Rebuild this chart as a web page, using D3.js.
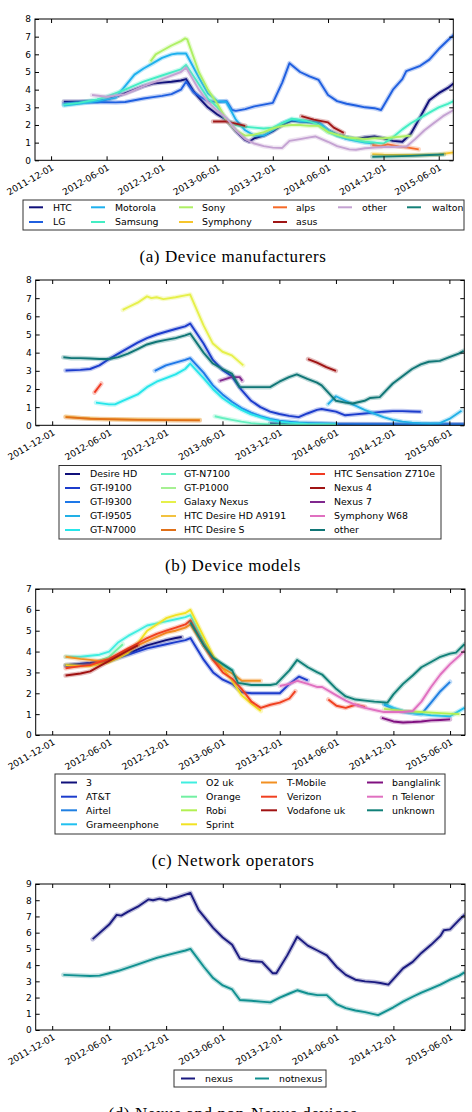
<!DOCTYPE html>
<html><head><meta charset="utf-8">
<script src="https://cdn.jsdelivr.net/npm/d3@7"></script>
<style>body{margin:0;background:#fff}</style>
</head><body><svg id="c" width="472" height="1112"></svg>
<script>
// ---------- shared axis data ----------
const xDomain = ["2011-10-09", "2015-07-19"];
const xTickLabels = ["2011-12-01","2012-06-01","2012-12-01","2013-06-01","2013-12-01","2014-06-01","2014-12-01","2015-06-01"];

// ---------- (a) Device manufacturers ----------
const mfrNames = ["HTC","LG","Motorola","Samsung","Sony","Symphony","alps","asus","other","walton"];
const mfrColors = ["#10107a","#1f5fe0","#1eb0ee","#44eec4","#aef064","#f6c52c","#f66a28","#a01616","#c4a2d2","#148078"];
const mfrHTC = [["2012-01-12",3.32],["2012-03-01",3.32],["2012-05-01",3.35],["2012-06-01",3.45],["2012-07-01",3.6],["2012-08-01",3.8],["2012-09-01",4.0],["2012-10-01",4.2],["2012-11-01",4.35],["2012-12-01",4.4],["2013-01-01",4.45],["2013-02-01",4.52],["2013-02-18",4.6],["2013-03-15",3.9],["2013-04-01",3.55],["2013-05-01",3.0],["2013-06-01",2.6],["2013-07-01",2.3],["2013-08-01",1.65],["2013-09-01",1.15],["2013-09-14",1.05],["2013-10-01",1.25],["2013-11-01",1.4],["2013-12-01",1.65],["2014-01-01",2.0],["2014-02-01",2.25],["2014-03-01",2.2],["2014-04-01",2.15],["2014-05-01",2.1],["2014-06-01",1.7],["2014-07-01",1.45],["2014-08-01",1.3],["2014-09-01",1.2],["2014-10-01",1.3],["2014-11-01",1.35],["2014-12-01",1.25],["2015-01-01",1.1],["2015-02-01",1.05],["2015-03-01",1.5],["2015-04-01",2.45],["2015-05-01",3.4],["2015-06-01",3.8],["2015-07-01",4.1],["2015-07-20",4.35]];
const mfrLG = [["2012-01-12",3.2],["2012-03-01",3.28],["2012-05-01",3.3],["2012-07-01",3.28],["2012-08-01",3.3],["2012-09-01",3.4],["2012-10-01",3.5],["2012-11-01",3.58],["2012-12-01",3.65],["2013-01-01",3.75],["2013-02-01",4.0],["2013-02-18",4.45],["2013-03-15",3.85],["2013-04-01",3.65],["2013-05-01",3.35],["2013-06-01",3.3],["2013-07-01",3.35],["2013-07-20",2.85],["2013-08-01",2.8],["2013-09-01",2.9],["2013-10-01",3.05],["2013-11-01",3.15],["2013-12-01",3.25],["2014-01-01",4.4],["2014-01-25",5.5],["2014-03-01",5.0],["2014-04-01",4.75],["2014-05-01",4.55],["2014-06-01",3.7],["2014-07-01",3.35],["2014-08-01",3.2],["2014-09-01",3.1],["2014-10-01",3.0],["2014-11-01",2.95],["2014-11-23",2.85],["2015-01-01",4.0],["2015-02-01",4.6],["2015-02-14",5.05],["2015-04-01",5.35],["2015-05-01",5.7],["2015-06-01",6.3],["2015-07-01",6.8],["2015-07-20",7.1]];
const mfrMotorola = [["2012-01-12",3.1],["2012-03-01",3.2],["2012-05-01",3.35],["2012-06-01",3.45],["2012-07-01",3.55],["2012-08-01",4.2],["2012-09-01",4.85],["2012-10-01",5.2],["2012-11-01",5.5],["2012-12-01",5.8],["2013-01-01",6.0],["2013-01-20",6.05],["2013-02-18",6.05],["2013-04-01",4.7],["2013-05-01",3.8],["2013-06-01",3.35],["2013-07-01",3.3],["2013-08-01",2.3],["2013-09-01",1.7],["2013-10-01",1.4],["2013-11-01",1.4],["2013-12-01",1.7],["2014-01-01",2.1],["2014-02-01",2.3],["2014-03-01",2.2],["2014-04-01",2.2],["2014-05-01",2.15],["2014-06-01",1.7],["2014-07-01",1.4],["2014-08-01",1.2],["2014-09-01",1.1],["2014-10-01",1.0],["2014-11-01",0.95]];
const mfrSamsung = [["2012-01-12",3.15],["2012-03-01",3.25],["2012-05-01",3.45],["2012-06-01",3.6],["2012-08-01",4.0],["2012-10-01",4.45],["2012-12-01",4.8],["2013-02-01",5.15],["2013-02-18",5.4],["2013-04-01",4.3],["2013-05-01",3.5],["2013-06-01",3.0],["2013-07-01",2.3],["2013-08-01",2.0],["2013-09-01",1.9],["2013-10-01",1.85],["2013-11-01",1.8],["2013-12-01",1.85],["2014-01-01",2.1],["2014-02-01",2.35],["2014-03-01",2.3],["2014-04-01",2.2],["2014-05-01",2.0],["2014-06-01",1.6],["2014-07-01",1.4],["2014-08-01",1.3],["2014-09-01",1.15],["2014-10-01",1.05],["2014-11-01",1.0],["2014-12-01",0.95],["2015-01-01",1.3],["2015-02-01",1.75],["2015-03-01",2.1],["2015-04-01",2.4],["2015-05-01",2.7],["2015-06-01",3.0],["2015-07-01",3.2],["2015-07-20",3.35]];
const mfrSony = [["2012-10-24",5.6],["2012-11-10",6.0],["2012-12-01",6.2],["2013-01-01",6.5],["2013-02-01",6.75],["2013-02-15",6.9],["2013-02-22",6.85],["2013-04-01",5.0],["2013-05-01",4.0],["2013-06-01",3.2],["2013-07-01",2.3],["2013-08-01",1.7],["2013-09-01",1.4],["2013-10-01",1.45],["2013-11-01",1.6],["2013-12-01",1.8],["2014-01-01",1.95],["2014-02-01",2.0],["2014-03-01",2.0],["2014-04-01",1.95],["2014-05-01",1.95],["2014-06-01",1.6],["2014-07-01",1.45],["2014-08-01",1.3],["2014-09-01",1.25],["2014-10-01",1.2],["2014-11-01",1.25],["2014-12-01",1.25],["2015-01-01",1.3],["2015-02-01",1.35],["2015-02-28",1.4]];
const mfrSymphony = [["2014-10-25",0.35],["2014-12-01",0.32],["2015-02-01",0.3],["2015-04-01",0.3],["2015-06-01",0.33],["2015-07-20",0.45]];
const mfrAlps = [["2014-10-25",0.85],["2014-11-23",0.8],["2014-12-15",0.9],["2015-01-20",0.78],["2015-02-20",0.72],["2015-03-27",0.62]];
const mfrAsus = [["2013-05-18",2.2],["2013-07-01",2.2],["2013-09-01",1.95],["2013-12-01",null],["2014-03-05",2.5],["2014-04-15",2.3],["2014-06-01",2.15],["2014-06-20",1.85],["2014-07-23",1.55]];
const mfrOther = [["2012-04-14",3.7],["2012-06-01",3.6],["2012-08-01",3.75],["2012-10-01",4.2],["2012-12-01",4.6],["2013-02-01",5.0],["2013-02-18",5.25],["2013-04-01",4.0],["2013-05-01",3.3],["2013-06-01",2.8],["2013-07-01",2.4],["2013-08-01",1.7],["2013-09-01",1.2],["2013-10-01",0.95],["2013-11-01",0.8],["2013-12-01",0.72],["2014-01-01",0.7],["2014-01-25",1.1],["2014-03-01",1.2],["2014-04-01",1.3],["2014-04-20",1.35],["2014-06-01",1.05],["2014-07-01",0.8],["2014-08-10",0.62],["2014-09-01",0.6],["2014-10-01",0.68],["2014-11-01",0.72],["2014-12-01",0.75],["2015-01-01",0.75],["2015-02-15",0.78],["2015-03-15",1.2],["2015-04-15",1.7],["2015-05-15",2.1],["2015-06-15",2.5],["2015-07-20",2.85]];
const mfrWalton = [["2014-10-25",0.2],["2015-01-01",0.22],["2015-03-01",0.25],["2015-05-01",0.3],["2015-06-18",0.33]];
const mfrData = [mfrHTC,mfrLG,mfrMotorola,mfrSamsung,mfrSony,mfrSymphony,mfrAlps,mfrAsus,mfrOther,mfrWalton];

// ---------- (b) Device models ----------
const modelNames = ["Desire HD","GT-I9100","GT-I9300","GT-I9505","GT-N7000","GT-N7100","GT-P1000","Galaxy Nexus","HTC Desire HD A9191","HTC Desire S","HTC Sensation Z710e","Nexus 4","Nexus 7","Symphony W68","other"];
const modelColors = ["#10107a","#1c3ccc","#1e78e8","#22b0e6","#26e6ea","#66f0c0","#a6f092","#e6f04a","#f2c240","#e07018","#f03a22","#a01414","#80288e","#e070c0","#107676"];
const mDesireHD = [["2013-11-01",0.1],["2014-06-01",0.05],["2015-07-17",0.04]];
const mI9100 = [["2012-01-13",3.02],["2012-03-01",3.05],["2012-04-01",3.1],["2012-05-01",3.3],["2012-06-01",3.65],["2012-07-01",3.95],["2012-08-01",4.25],["2012-09-01",4.55],["2012-10-01",4.8],["2012-11-01",5.0],["2012-12-01",5.15],["2013-01-01",5.3],["2013-02-01",5.45],["2013-02-17",5.6],["2013-04-01",4.5],["2013-05-01",3.6],["2013-06-01",3.05],["2013-07-01",2.7],["2013-08-01",1.95],["2013-09-01",1.35],["2013-10-01",1.0],["2013-11-01",0.75],["2013-12-01",0.62],["2014-01-01",0.52],["2014-02-01",0.45],["2014-03-01",0.65],["2014-04-01",0.85],["2014-04-16",0.9],["2014-06-01",0.75],["2014-07-01",0.55],["2014-08-01",0.6],["2014-09-01",0.65],["2014-10-01",0.7],["2014-11-01",0.75],["2014-12-01",0.78],["2015-01-01",0.78],["2015-02-01",0.76],["2015-03-01",0.75]];
const mI9300 = [["2012-10-26",3.0],["2012-12-01",3.3],["2013-01-01",3.45],["2013-02-01",3.6],["2013-02-17",3.7],["2013-04-01",2.9],["2013-05-01",2.2],["2013-06-01",1.7],["2013-07-01",1.3],["2013-08-01",0.95],["2013-09-01",0.7],["2013-10-01",0.5],["2013-11-01",0.35],["2013-12-01",0.25],["2014-02-01",0.15],["2014-06-01",0.08],["2014-12-01",0.05],["2015-05-01",0.05],["2015-07-17",0.05]];
const mI9505 = [["2014-05-06",1.15],["2014-06-01",1.6],["2014-07-01",1.35],["2014-08-01",1.1],["2014-09-01",0.85],["2014-10-01",0.65],["2014-11-01",0.45],["2014-12-01",0.3],["2015-01-01",0.2],["2015-02-01",0.15],["2015-03-01",0.12],["2015-04-01",0.1],["2015-05-01",0.12],["2015-06-01",0.35],["2015-07-10",0.8]];
const mN7000 = [["2012-04-20",1.25],["2012-06-01",1.15],["2012-06-20",1.15],["2012-07-15",1.35],["2012-09-01",1.7],["2012-10-01",2.1],["2012-11-01",2.4],["2012-12-01",2.6],["2013-01-01",2.8],["2013-02-01",3.1],["2013-02-17",3.4],["2013-04-01",2.6],["2013-05-01",2.0],["2013-06-01",1.5],["2013-07-01",1.15],["2013-08-01",0.85],["2013-09-01",0.6],["2013-10-01",0.45],["2013-11-01",0.3],["2013-12-01",0.2],["2014-01-01",0.15],["2014-03-01",0.08],["2014-06-01",0.05]];
const mN7100 = [["2013-05-07",0.5],["2013-06-01",0.4],["2013-07-01",0.3],["2013-08-01",0.2],["2013-09-01",0.12],["2013-10-01",0.08],["2013-11-01",0.05],["2014-01-01",0.03],["2014-06-01",0.02]];
const mP1000 = [];
const mGalaxyNexus = [["2012-07-15",6.35],["2012-08-01",6.5],["2012-09-01",6.75],["2012-10-01",7.1],["2012-10-15",7.0],["2012-11-01",7.05],["2012-11-23",6.95],["2013-01-01",7.05],["2013-02-01",7.15],["2013-02-17",7.2],["2013-04-01",5.5],["2013-05-01",4.5],["2013-06-01",4.05],["2013-07-01",3.85],["2013-08-07",3.3]];
const mA9191 = [["2012-01-13",0.48],["2012-03-01",0.4],["2012-05-01",0.35],["2012-08-01",0.32],["2012-12-01",0.3],["2013-03-20",0.3]];
const mDesireS = [["2012-01-13",0.45],["2012-04-01",0.36],["2012-09-01",0.3],["2013-03-20",0.27]];
const mZ710e = [["2012-04-15",1.8],["2012-05-07",2.3]];
const mNexus4 = [["2014-03-03",3.65],["2014-04-01",3.45],["2014-05-01",3.2],["2014-06-01",3.0]];
const mNexus7 = [["2013-05-23",2.45],["2013-06-30",2.65],["2013-07-26",2.65],["2013-08-04",2.45]];
const mW68 = [];
const mOther = [["2012-01-06",3.75],["2012-02-01",3.7],["2012-03-01",3.7],["2012-04-01",3.68],["2012-05-01",3.65],["2012-06-01",3.65],["2012-07-01",3.75],["2012-08-01",3.95],["2012-09-01",4.2],["2012-10-01",4.45],["2012-11-01",4.6],["2012-12-01",4.7],["2013-01-01",4.8],["2013-02-01",4.95],["2013-02-17",5.05],["2013-04-01",4.0],["2013-05-01",3.4],["2013-06-01",3.1],["2013-07-01",2.85],["2013-07-26",2.1],["2013-09-01",2.1],["2013-10-01",2.1],["2013-11-01",2.1],["2013-12-01",2.4],["2014-01-01",2.65],["2014-01-26",2.8],["2014-03-01",2.55],["2014-04-01",2.35],["2014-04-16",2.2],["2014-06-01",1.35],["2014-07-01",1.25],["2014-07-25",1.2],["2014-09-01",1.35],["2014-09-18",1.5],["2014-10-20",1.55],["2014-12-01",2.3],["2015-01-01",2.7],["2015-02-01",3.1],["2015-03-01",3.35],["2015-03-27",3.5],["2015-05-01",3.55],["2015-06-01",3.75],["2015-07-01",3.95],["2015-07-17",4.1]];
const modelData = [mDesireHD,mI9100,mI9300,mI9505,mN7000,mN7100,mP1000,mGalaxyNexus,mA9191,mDesireS,mZ710e,mNexus4,mNexus7,mW68,mOther];

// ---------- (c) Network operators ----------
const opNames = ["3","AT&T","Airtel","Grameenphone","O2 uk","Orange","Robi","Sprint","T-Mobile","Verizon","Vodafone uk","banglalink","n Telenor","unknown"];
const opColors = ["#10107a","#1c3ccc","#2080e2","#20c0f0","#40eee0","#72f0a2","#b2f052","#f2e222","#f29022","#f04020","#a01212","#801080","#e070c0","#108078"];
const op3 = [["2012-01-13",3.35],["2012-04-01",3.45],["2012-06-01",3.6],["2012-08-01",3.9],["2012-10-01",4.3],["2012-12-01",4.55],["2013-01-01",4.65],["2013-01-20",4.7]];
const opATT = [["2012-01-13",3.3],["2012-04-01",3.4],["2012-06-01",3.55],["2012-08-01",3.85],["2012-10-01",4.15],["2012-12-01",4.35],["2013-01-01",4.45],["2013-02-01",4.55],["2013-02-17",4.65],["2013-04-01",3.6],["2013-05-01",3.0],["2013-06-01",2.65],["2013-07-01",2.45],["2013-08-01",2.05],["2013-09-01",2.0],["2013-10-01",2.0],["2013-11-01",2.0],["2013-12-01",2.0],["2014-01-01",2.45],["2014-02-01",2.8],["2014-03-01",2.62]];
const opAirtel = [["2014-11-01",1.45],["2014-12-01",1.25],["2015-01-01",1.1],["2015-02-01",1.05],["2015-03-01",1.0],["2015-04-01",1.55],["2015-05-01",2.1],["2015-06-01",2.55]];
const opGrameen = [["2014-11-01",1.5],["2014-12-01",1.3],["2015-01-01",1.15],["2015-02-01",1.05],["2015-03-01",1.0],["2015-04-01",0.95],["2015-05-01",0.92],["2015-06-01",0.9],["2015-07-17",1.3]];
const opO2 = [["2012-01-13",3.75],["2012-03-01",3.75],["2012-05-01",3.85],["2012-06-01",4.0],["2012-07-01",4.45],["2012-08-01",4.75],["2012-09-01",5.0],["2012-10-01",5.25],["2012-11-01",5.35],["2012-12-01",5.45],["2013-01-01",5.55],["2013-02-01",5.65],["2013-02-17",5.75],["2013-04-01",4.5],["2013-05-01",3.7],["2013-06-01",3.35],["2013-07-01",3.1]];
const opOrange = [["2012-05-01",3.55],["2012-06-01",3.75],["2012-07-15",4.35]];
const opRobi = [["2014-11-01",1.25],["2015-01-01",1.15],["2015-03-01",1.1],["2015-05-01",1.05],["2015-07-01",1.0]];
const opSprint = [["2012-01-13",3.35],["2012-04-01",3.3],["2012-06-01",3.5],["2012-07-01",3.7],["2012-08-01",3.95],["2012-09-01",4.4],["2012-10-01",5.0],["2012-11-01",5.3],["2012-12-01",5.6],["2013-01-01",5.75],["2013-02-01",5.85],["2013-02-17",6.0],["2013-04-01",4.7],["2013-05-01",3.8],["2013-06-01",3.2],["2013-07-01",2.6],["2013-08-01",1.9],["2013-09-01",1.5],["2013-10-01",1.15]];
const opTMobile = [["2012-01-13",3.75],["2012-03-01",3.65],["2012-04-01",3.6],["2012-05-01",3.55],["2012-06-01",3.6],["2012-07-01",3.8],["2012-08-01",4.1],["2012-09-01",4.3],["2012-10-01",4.5],["2012-11-01",4.7],["2012-12-01",4.9],["2013-01-01",5.0],["2013-02-01",5.15],["2013-02-17",5.3],["2013-04-01",4.3],["2013-05-01",3.6],["2013-06-01",3.2],["2013-07-01",2.95],["2013-08-01",2.6],["2013-09-01",2.6],["2013-10-01",2.6]];
const opVerizon = [["2012-01-13",3.2],["2012-03-01",3.3],["2012-04-01",3.35],["2012-05-01",3.5],["2012-06-01",3.65],["2012-07-01",3.9],["2012-08-01",4.15],["2012-09-01",4.4],["2012-10-01",4.65],["2012-11-01",4.85],["2012-12-01",5.0],["2013-01-01",5.15],["2013-02-01",5.3],["2013-02-17",5.5],["2013-04-01",4.3],["2013-05-01",3.6],["2013-06-01",3.0],["2013-07-01",2.7],["2013-08-01",2.2],["2013-09-01",1.6],["2013-10-01",1.3],["2013-11-01",1.45],["2013-12-01",1.55],["2014-01-01",1.75],["2014-01-20",2.1],["2014-03-15",null],["2014-05-06",1.7],["2014-06-01",1.4],["2014-07-01",1.3],["2014-08-01",1.45],["2014-09-01",1.35]];
const opVodafone = [["2012-01-13",2.85],["2012-03-01",2.95],["2012-04-01",3.05],["2012-05-01",3.3],["2012-06-01",3.55],["2012-07-01",3.8],["2012-08-01",4.05],["2012-09-01",4.3]];
const opBanglalink = [["2014-10-25",0.82],["2014-12-01",0.65],["2015-01-01",0.6],["2015-02-01",0.62],["2015-03-01",0.65],["2015-04-01",0.7],["2015-05-01",0.72],["2015-06-01",0.75]];
const opTelenor = [["2013-12-01",2.35],["2014-01-01",2.45],["2014-01-26",2.6],["2014-03-01",2.45],["2014-04-01",2.3],["2014-04-16",2.3],["2014-06-01",1.9],["2014-07-01",1.65],["2014-08-01",1.45],["2014-09-01",1.3],["2014-10-01",1.2],["2014-11-01",1.1],["2014-12-01",1.1],["2015-01-01",1.1],["2015-02-01",1.15],["2015-03-01",1.6],["2015-04-01",2.3],["2015-05-01",2.9],["2015-06-01",3.4],["2015-07-01",3.8],["2015-07-17",4.05]];
const opUnknown = [["2013-02-17",5.4],["2013-04-01",4.3],["2013-05-01",3.7],["2013-06-01",3.4],["2013-07-01",3.1],["2013-07-20",2.5],["2013-09-01",2.4],["2013-10-01",2.4],["2013-11-01",2.4],["2013-11-20",2.45],["2014-01-01",3.1],["2014-01-26",3.6],["2014-03-01",3.25],["2014-04-01",3.0],["2014-04-16",2.9],["2014-06-01",2.2],["2014-07-01",1.85],["2014-08-01",1.7],["2014-09-01",1.65],["2014-10-01",1.6],["2014-11-12",1.55],["2014-12-01",1.95],["2015-01-01",2.45],["2015-02-01",2.85],["2015-03-01",3.25],["2015-04-01",3.5],["2015-05-01",3.75],["2015-06-01",3.9],["2015-06-20",3.95],["2015-07-17",4.35]];
const opData = [op3,opATT,opAirtel,opGrameen,opO2,opOrange,opRobi,opSprint,opTMobile,opVerizon,opVodafone,opBanglalink,opTelenor,opUnknown];

// ---------- (d) Nexus vs non-Nexus ----------
const nexNames = ["nexus","notnexus"];
const nexColors = ["#1a1a80","#109090"];
const nexNexus = [["2012-04-09",5.6],["2012-06-01",6.5],["2012-06-25",7.1],["2012-07-10",7.05],["2012-08-01",7.3],["2012-09-01",7.6],["2012-10-05",8.05],["2012-10-20",8.0],["2012-11-10",8.1],["2012-12-01",8.0],["2013-01-01",8.15],["2013-02-01",8.35],["2013-02-17",8.45],["2013-03-15",7.4],["2013-05-01",6.3],["2013-06-01",5.7],["2013-07-01",5.25],["2013-07-26",4.4],["2013-09-01",4.25],["2013-10-05",4.2],["2013-11-08",3.5],["2013-11-20",3.5],["2013-12-25",4.6],["2014-01-26",5.75],["2014-03-01",5.2],["2014-04-01",4.9],["2014-05-01",4.6],["2014-06-01",3.9],["2014-07-01",3.4],["2014-08-01",3.1],["2014-09-01",3.0],["2014-10-01",2.95],["2014-10-20",2.9],["2014-11-15",2.8],["2015-01-01",3.8],["2015-02-01",4.2],["2015-03-01",4.75],["2015-04-01",5.25],["2015-05-01",5.8],["2015-05-12",6.15],["2015-06-01",6.2],["2015-07-01",6.8],["2015-07-17",7.1]];
const nexNot = [["2012-01-06",3.4],["2012-03-01",3.35],["2012-04-01",3.33],["2012-05-01",3.35],["2012-06-01",3.5],["2012-07-01",3.65],["2012-08-01",3.85],["2012-09-01",4.05],["2012-10-01",4.25],["2012-11-01",4.45],["2012-12-01",4.6],["2013-01-01",4.75],["2013-02-01",4.9],["2013-02-17",5.0],["2013-04-01",3.9],["2013-05-01",3.2],["2013-06-01",2.75],["2013-07-01",2.5],["2013-07-26",1.85],["2013-09-01",1.8],["2013-10-01",1.75],["2013-11-01",1.7],["2013-12-01",2.0],["2014-01-01",2.25],["2014-01-26",2.45],["2014-03-01",2.25],["2014-04-01",2.15],["2014-05-01",2.15],["2014-06-01",1.6],["2014-07-01",1.35],["2014-08-01",1.2],["2014-09-01",1.1],["2014-10-13",0.92],["2014-12-01",1.4],["2015-01-01",1.75],["2015-02-01",2.05],["2015-03-01",2.3],["2015-04-01",2.55],["2015-05-01",2.8],["2015-06-01",3.1],["2015-07-01",3.35],["2015-07-17",3.55]];
const nexData = [nexNexus,nexNot];

// ---------- drawing ----------
const svg = d3.select("#c");
const parseD = d3.utcParse("%Y-%m-%d");
const SANS = "DejaVu Sans, Verdana, sans-serif";

function legendColumns(n, ncol) {
  ncol = Math.min(ncol, n);
  const base = Math.floor(n / ncol), large = n % ncol;
  const rows = [];
  for (let c = 0; c < ncol; c++) rows.push(c < large ? base + 1 : base);
  return rows;
}

function drawPanel(id, p) {
  const g = svg.append("g");
  const x = d3.scaleUtc().domain(xDomain.map(parseD)).range([p.L, p.R]);
  const y = d3.scaleLinear().domain([0, p.ymax]).range([p.B, p.T]);
  const tickDates = xTickLabels.map(parseD);

  g.append("clipPath").attr("id", "clip" + id).append("rect")
    .attr("x", p.L).attr("y", p.T).attr("width", p.R - p.L).attr("height", p.B - p.T);

  const line = d3.line().defined(d => d[1] != null)
    .x(d => x(parseD(d[0]))).y(d => y(d[1]));

  const lines = g.append("g").attr("clip-path", `url(#clip${id})`);
  p.data.forEach((s, i) => {
    if (!s.length) return;
    lines.append("path").attr("d", line(s)).attr("fill", "none")
      .attr("stroke", p.colors[i]).attr("stroke-width", 4.6).attr("stroke-opacity", 0.28)
      .attr("stroke-linejoin", "round").attr("stroke-linecap", "round");
    lines.append("path").attr("d", line(s)).attr("fill", "none")
      .attr("stroke", p.colors[i]).attr("stroke-width", 1.9)
      .attr("stroke-linejoin", "round");
  });

  // frame
  g.append("rect").attr("x", p.L).attr("y", p.T).attr("width", p.R - p.L).attr("height", p.B - p.T)
    .attr("fill", "none").attr("stroke", "#000").attr("stroke-width", 1);

  const yTicks = d3.range(0, p.ymax + 1);
  const ax = (sel) => sel.call(s => s.select(".domain").remove())
    .call(s => s.selectAll("line").attr("stroke", "#000"))
    .call(s => s.selectAll("text").attr("font-family", SANS).attr("font-size", 9).attr("fill", "#000"));

  g.append("g").attr("transform", `translate(0,${p.B})`)
    .call(d3.axisBottom(x).tickValues(tickDates).tickFormat((d, i) => xTickLabels[i]).tickSize(-4))
    .call(ax)
    .call(s => s.selectAll("text").attr("text-anchor", "end").attr("x", 3).attr("y", 9).attr("dy", null)
      .attr("transform", "rotate(-30 3 9)"));
  g.append("g").attr("transform", `translate(0,${p.T})`)
    .call(d3.axisTop(x).tickValues(tickDates).tickFormat("").tickSize(-4)).call(ax);
  g.append("g").attr("transform", `translate(${p.L},0)`)
    .call(d3.axisLeft(y).tickValues(yTicks).tickFormat(d3.format("d")).tickSize(-4).tickPadding(4)).call(ax);
  g.append("g").attr("transform", `translate(${p.R},0)`)
    .call(d3.axisRight(y).tickValues(yTicks).tickFormat("").tickSize(-4)).call(ax);

  // legend
  const lg = p.leg;
  g.append("rect").attr("x", lg.x0).attr("y", lg.y0).attr("width", lg.x1 - lg.x0).attr("height", lg.y1 - lg.y0)
    .attr("fill", "#fff").attr("stroke", "#333").attr("stroke-width", 1);
  const rows = legendColumns(p.names.length, lg.ncol);
  let idx = 0;
  rows.forEach((nr, c) => {
    for (let r = 0; r < nr; r++, idx++) {
      const yy = lg.rowY[r];
      g.append("line").attr("x1", lg.handleX[c]).attr("x2", lg.handleX[c] + lg.hlen)
        .attr("y1", yy).attr("y2", yy).attr("stroke", p.colors[idx]).attr("stroke-width", 2);
      g.append("text").attr("x", lg.textX[c]).attr("y", yy).attr("dy", "0.35em")
        .attr("font-family", SANS).attr("font-size", 9.4).attr("fill", "#000").text(p.names[idx]);
    }
  });

  // caption
  g.append("text").attr("x", 233).attr("y", p.capY).attr("text-anchor", "middle")
    .attr("font-family", "Liberation Serif, Times New Roman, serif").attr("font-size", 17)
    .attr("letter-spacing", 0.6).attr("fill", "#000").text(p.caption);
}

drawPanel("a", {L: 35, R: 453.3, T: 19, B: 160.3, ymax: 8, names: mfrNames, colors: mfrColors, data: mfrData,
  leg: {x0: 23, x1: 464, y0: 200, y1: 230, ncol: 6, hlen: 14,
        handleX: [29, 91, 179, 273, 338, 407], textX: [53, 115, 202, 296, 362, 432], rowY: [207.3, 222]},
  caption: "(a) Device manufacturers", capY: 262});

drawPanel("b", {L: 35.7, R: 464.3, T: 280, B: 425.3, ymax: 8, names: modelNames, colors: modelColors, data: modelData,
  leg: {x0: 59, x1: 441, y0: 465.5, y1: 539, ncol: 3, hlen: 15,
        handleX: [65, 161, 310], textX: [90, 184, 334], rowY: [474, 488, 502, 516, 530]},
  caption: "(b) Device models", capY: 571});

drawPanel("c", {L: 35.7, R: 465, T: 589, B: 735, ymax: 7, names: opNames, colors: opColors, data: opData,
  leg: {x0: 55, x1: 445, y0: 774, y1: 834, ncol: 4, hlen: 16,
        handleX: [61, 181, 261, 367], textX: [86, 206, 287, 392], rowY: [782.5, 796.7, 810.3, 824.3]},
  caption: "(c) Network operators", capY: 866});

drawPanel("d", {L: 35.7, R: 465, T: 884, B: 1030, ymax: 9, names: nexNames, colors: nexColors, data: nexData,
  leg: {x0: 174, x1: 326, y0: 1070, y1: 1087, ncol: 2, hlen: 14,
        handleX: [181, 255], textX: [205, 279], rowY: [1078.5]},
  caption: "(d) Nexus and non-Nexus devices", capY: 1119});
</script></body></html>
